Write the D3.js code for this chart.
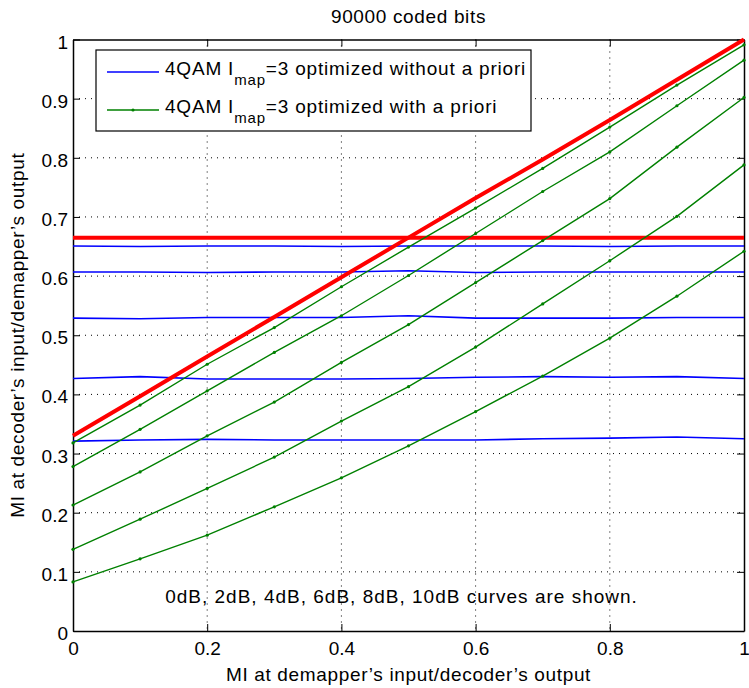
<!DOCTYPE html>
<html>
<head>
<meta charset="utf-8">
<script src="https://cdn.jsdelivr.net/npm/d3@7"></script>
<style>
  body { margin: 0; background: #fff; }
  text { font-family: "Liberation Sans", Arial, sans-serif; fill: #000; }
</style>
</head>
<body>
<div id="chart"></div>
<script>
// x positions shared by all curves
const xValues = [0, 0.1, 0.2, 0.3, 0.4, 0.5, 0.6, 0.7, 0.8, 0.9, 1];

// blue curves: optimized without a priori (flat)
const blueCurves = [
    [0.651, 0.650, 0.651, 0.651, 0.650, 0.651, 0.651, 0.651, 0.650, 0.651, 0.651],
    [0.607, 0.607, 0.606, 0.607, 0.607, 0.609, 0.606, 0.607, 0.607, 0.607, 0.607],
    [0.529, 0.528, 0.530, 0.530, 0.530, 0.533, 0.529, 0.529, 0.529, 0.530, 0.530],
    [0.427, 0.430, 0.426, 0.426, 0.426, 0.427, 0.429, 0.430, 0.429, 0.430, 0.427],
    [0.321, 0.323, 0.324, 0.323, 0.323, 0.323, 0.323, 0.325, 0.326, 0.328, 0.325]
];

// green curves: optimized with a priori
const greenCurves = [
    [0.318, 0.382, 0.451, 0.513, 0.582, 0.649, 0.715, 0.782, 0.852, 0.923, 0.991],
    [0.278, 0.341, 0.406, 0.471, 0.533, 0.601, 0.672, 0.743, 0.810, 0.888, 0.965],
    [0.213, 0.269, 0.330, 0.387, 0.454, 0.518, 0.589, 0.660, 0.731, 0.818, 0.902],
    [0.138, 0.189, 0.241, 0.294, 0.355, 0.413, 0.480, 0.553, 0.626, 0.701, 0.788],
    [0.083, 0.122, 0.162, 0.210, 0.259, 0.313, 0.371, 0.431, 0.495, 0.566, 0.642]
];

// red curves: rising one and the horizontal one
const redRising = [0.330, 0.397, 0.464, 0.531, 0.598, 0.665, 0.732, 0.797, 0.864, 0.932, 1.0];
const redFlat = [0.665, 0.665, 0.665, 0.665, 0.665, 0.665, 0.665, 0.665, 0.665, 0.665, 0.665];

const xTicks = [0, 0.2, 0.4, 0.6, 0.8, 1];
const yTicks = [0, 0.1, 0.2, 0.3, 0.4, 0.5, 0.6, 0.7, 0.8, 0.9, 1];

const titleText = "90000 coded bits";
const xLabel = "MI at demapper\u2019s input/decoder\u2019s output";
const yLabel = "MI at decoder\u2019s input/demapper\u2019s output";
const noteText = "0dB, 2dB, 4dB, 6dB, 8dB, 10dB curves are shown.";
const legendItems = [
    { pre: "4QAM I", sub: "map", post: "=3 optimized without a priori", color: "#0000ff", marker: false },
    { pre: "4QAM I", sub: "map", post: "=3 optimized with a priori", color: "#008000", marker: true }
];

const W = 749, H = 688;
const margin = { top: 39.5, right: 5, bottom: 57, left: 73 };
const width = W - margin.left - margin.right;
const height = H - margin.top - margin.bottom;
const fontSize = "19px";
const spacing = "0.65px";

const svg = d3.select("#chart").append("svg")
    .attr("width", W)
    .attr("height", H);

const g = svg.append("g")
    .attr("transform", `translate(${margin.left},${margin.top})`);

const x = d3.scaleLinear().domain([0, 1]).range([0, width]);
const y = d3.scaleLinear().domain([0, 1]).range([height, 0]);

// dotted grid
g.append("g")
    .selectAll("line")
    .data(xTicks.slice(1, -1))
    .enter().append("line")
    .attr("x1", d => x(d)).attr("x2", d => x(d))
    .attr("y1", 0).attr("y2", height)
    .attr("stroke", "#000").attr("stroke-width", 1)
    .attr("stroke-dasharray", "1,5");

g.append("g")
    .selectAll("line")
    .data(yTicks.slice(1, -1))
    .enter().append("line")
    .attr("x1", 0).attr("x2", width)
    .attr("y1", d => y(d)).attr("y2", d => y(d))
    .attr("stroke", "#000").attr("stroke-width", 1)
    .attr("stroke-dasharray", "1,5");

// axes with ticks pointing inside, MATLAB box style
const fmt = d => d3.format("")(+d.toFixed(1));
const axB = g.append("g").attr("transform", `translate(0,${height})`)
    .call(d3.axisBottom(x).tickValues(xTicks).tickSizeInner(-7).tickSizeOuter(0).tickPadding(11).tickFormat(fmt));
const axL = g.append("g")
    .call(d3.axisLeft(y).tickValues(yTicks).tickSizeInner(-7).tickSizeOuter(0).tickPadding(5).tickFormat(fmt));
const axT = g.append("g")
    .call(d3.axisTop(x).tickValues(xTicks).tickSizeInner(-7).tickSizeOuter(0).tickFormat(""));
const axR = g.append("g").attr("transform", `translate(${width},0)`)
    .call(d3.axisRight(y).tickValues(yTicks).tickSizeInner(-7).tickSizeOuter(0).tickFormat(""));

[axB, axL, axT, axR].forEach(a => {
    a.selectAll("path").attr("stroke", "#000").attr("stroke-width", 1.5);
    a.selectAll("line").attr("stroke", "#000");
    a.selectAll("text").style("font-size", fontSize).attr("fill", "#000")
        .style("font-family", "'Liberation Sans', Arial, sans-serif");
});
axB.selectAll("text").attr("dy", "0.71em");
axL.selectAll("text").attr("dy", "0.45em");

const line = d3.line()
    .x((d, i) => x(xValues[i]))
    .y(d => y(d));

const plot = g.append("g");

blueCurves.forEach(c => {
    plot.append("path").datum(c)
        .attr("d", line)
        .attr("fill", "none")
        .attr("stroke", "#0000ff")
        .attr("stroke-width", 1.6);
});

plot.append("path").datum(redFlat)
    .attr("d", line)
    .attr("fill", "none")
    .attr("stroke", "#ff0000")
    .attr("stroke-width", 4);

greenCurves.forEach(c => {
    plot.append("path").datum(c)
        .attr("d", line)
        .attr("fill", "none")
        .attr("stroke", "#008000")
        .attr("stroke-width", 1.4);
    plot.selectAll(null).data(c).enter().append("circle")
        .attr("cx", (d, i) => x(xValues[i]))
        .attr("cy", d => y(d))
        .attr("r", 1.6)
        .attr("fill", "#008000");
});

plot.append("path").datum(redRising)
    .attr("d", line)
    .attr("fill", "none")
    .attr("stroke", "#ff0000")
    .attr("stroke-width", 4);

// legend
const legend = g.append("g").attr("transform", `translate(${96 - margin.left},${50 - margin.top})`);
legend.append("rect")
    .attr("width", 435).attr("height", 81)
    .attr("fill", "#fff").attr("stroke", "#000").attr("stroke-width", 1.2);

legendItems.forEach((item, i) => {
    const row = legend.append("g").attr("transform", `translate(0,${22 + i * 38})`);
    row.append("line")
        .attr("x1", 11).attr("x2", 63)
        .attr("stroke", item.color).attr("stroke-width", 1.5);
    if (item.marker) {
        row.append("circle").attr("cx", 37).attr("r", 1.6).attr("fill", item.color);
    }
    const t = row.append("text").attr("x", 69).attr("y", 3)
        .style("font-size", fontSize).style("letter-spacing", "0.8px");
    t.append("tspan").text(item.pre);
    t.append("tspan").attr("dy", 10).style("font-size", "15px").text(item.sub);
    t.append("tspan").attr("dy", -10).text(item.post);
});

// texts
svg.append("text")
    .attr("x", margin.left + width / 2).attr("y", 23)
    .attr("text-anchor", "middle").style("font-size", fontSize).style("letter-spacing", spacing)
    .text(titleText);

g.append("text")
    .attr("x", width / 2 - 7).attr("y", y(0.047))
    .attr("text-anchor", "middle").style("font-size", fontSize).style("letter-spacing", "1px")
    .text(noteText);

svg.append("text")
    .attr("x", margin.left + width / 2).attr("y", 681)
    .attr("text-anchor", "middle").style("font-size", fontSize).style("letter-spacing", spacing)
    .text(xLabel);

svg.append("text")
    .attr("transform", `translate(24,${margin.top + height / 2}) rotate(-90)`)
    .attr("text-anchor", "middle").style("font-size", fontSize).style("letter-spacing", spacing)
    .text(yLabel);
</script>
</body>
</html>
